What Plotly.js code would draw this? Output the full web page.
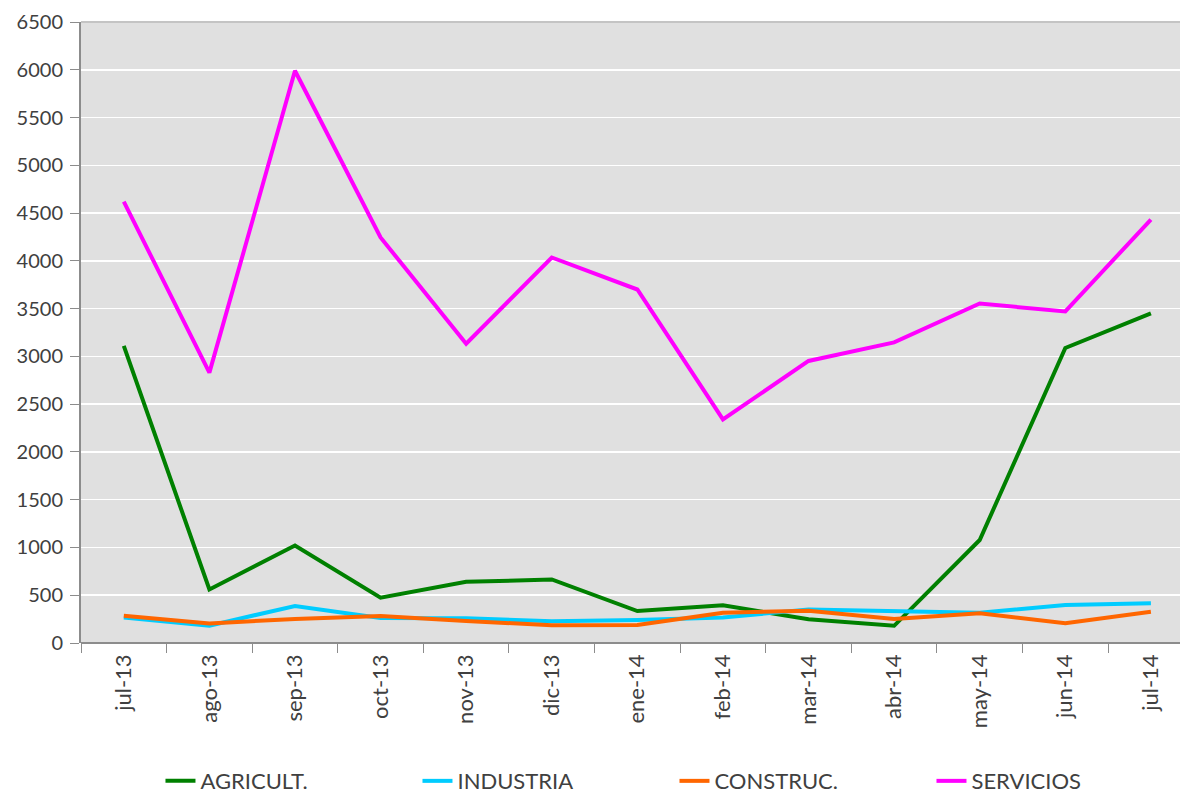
<!DOCTYPE html>
<html>
<head>
<meta charset="utf-8">
<script src="https://cdn.plot.ly/plotly-3.0.1.min.js"></script>
<style>html,body{margin:0;padding:0;background:#fff;}#chart{width:1180px;height:797px;}</style>
</head>
<body>
<div id="chart"></div>
<script>
const months = ["jul-13","ago-13","sep-13","oct-13","nov-13","dic-13","ene-14","feb-14","mar-14","abr-14","may-14","jun-14","jul-14"];
const agricult = [3110, 560, 1020, 475, 640, 665, 334, 395, 248, 180, 1078, 3088, 3450];
const industria = [268, 182, 388, 262, 258, 228, 240, 268, 350, 336, 316, 397, 415];
const construc = [286, 205, 251, 282, 230, 186, 188, 317, 338, 251, 312, 206, 327];
const servicios = [4620, 2830, 5990, 4245, 3132, 4035, 3700, 2340, 2952, 3146, 3553, 3470, 4432];

const seriesNames = ["AGRICULT.", "INDUSTRIA", "CONSTRUC.", "SERVICIOS"];
const seriesVals = [agricult, industria, construc, servicios];
const seriesColors = ["#008000", "#00ccff", "#ff6600", "#ff00ff"];

const data = seriesNames.map((n, i) => ({
  type: "scatter", mode: "lines", name: n,
  x: months, y: seriesVals[i],
  line: {color: seriesColors[i], width: 4}
}));

const layout = {
  width: 1180, height: 797,
  margin: {l: 81, r: 0, t: 22, b: 154},
  paper_bgcolor: "#ffffff",
  plot_bgcolor: "#e0e0e0",
  font: {family: "Lato, 'Open Sans', sans-serif", size: 20, color: "#404040"},
  showlegend: true,
  legend: {
    orientation: "h", xref: "container", yref: "container",
    x: 0.136, xanchor: "left", y: 0.02, yanchor: "middle",
    font: {size: 22, color: "#404040"},
    entrywidth: 212, entrywidthmode: "pixels"
  },
  xaxis: {
    type: "category", range: [-0.5, 12.34], automargin: false,
    tickson: "boundaries", ticks: "outside", ticklen: 9, tickcolor: "#8c8c8c", tickwidth: 1,
    tickangle: -90, showgrid: false, zeroline: false, ticklabelstandoff: 6,
    showline: false, fixedrange: true,
    tickfont: {size: 22, color: "#404040"}
  },
  yaxis: {
    range: [0, 6500], dtick: 500, tick0: 0, automargin: false,
    ticks: "outside", ticklen: 9, tickcolor: "#8c8c8c", ticklabelstandoff: 3,
    showline: true, linecolor: "#8c8c8c", linewidth: 2,
    gridcolor: "#ffffff", gridwidth: 1.5, zeroline: false,
    tickfont: {size: 20, color: "#404040"}
  },
  shapes: [
    {type: "line", xref: "paper", yref: "paper", x0: 0, x1: 1, y0: 1, y1: 1, line: {color: "#c4c4c4", width: 2}},
    {type: "line", xref: "paper", yref: "paper", x0: 0, x1: 1, y0: 0, y1: 0, line: {color: "#8c8c8c", width: 2}}
  ]
};

Plotly.newPlot("chart", data, layout, {displayModeBar: false, staticPlot: true});
</script>
</body>
</html>
